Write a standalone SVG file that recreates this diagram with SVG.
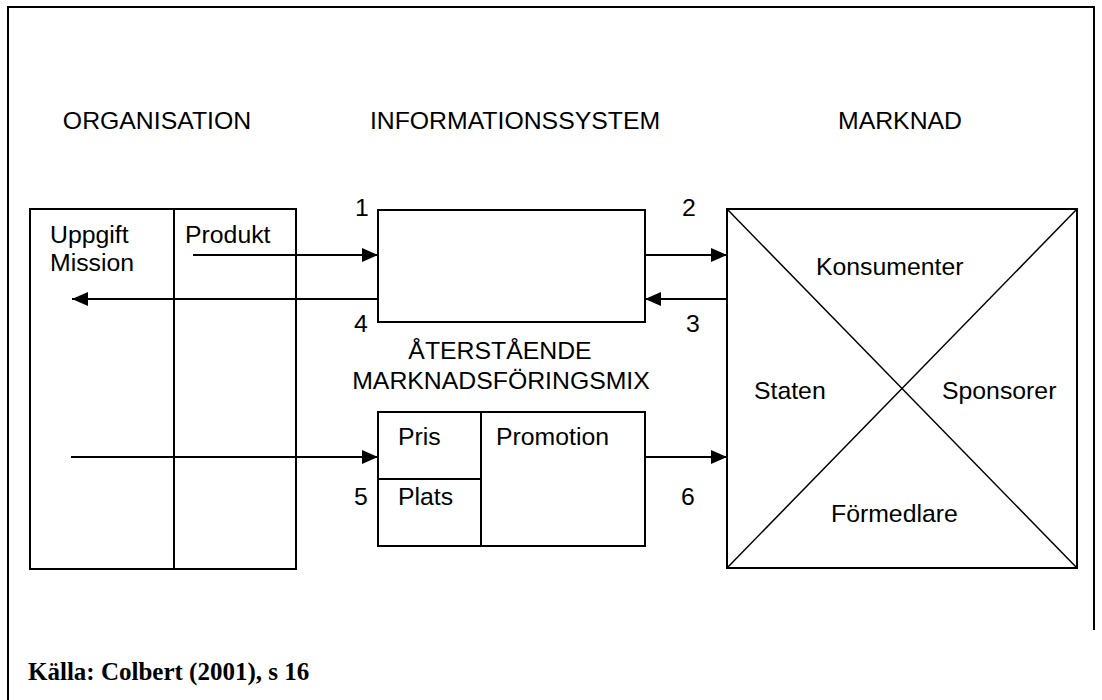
<svg xmlns="http://www.w3.org/2000/svg" width="1102" height="700" viewBox="0 0 1102 700">
  <style>
    .box { fill: none; stroke: #000; stroke-width: 2; }
    .thin { fill: none; stroke: #000; stroke-width: 1.5; }
    .lbl { font-family: "Liberation Sans", Arial, sans-serif; font-size: 24.8px; fill: #000; }
    .mid { text-anchor: middle; }
    .src { font-family: "Liberation Serif", "Times New Roman", serif; font-size: 25px; font-weight: bold; fill: #000; }
    .conn { stroke: #000; stroke-width: 2; fill: none; marker-end: url(#arrow); }
  </style>
  <defs>
    <marker id="arrow" viewBox="0 0 16 14" refX="16" refY="7" markerWidth="16" markerHeight="14" markerUnits="userSpaceOnUse" orient="auto">
      <path d="M0,0 L16,7 L0,14 Z" fill="#000"/>
    </marker>
  </defs>

  <rect width="1102" height="700" fill="#fff"/>

  <!-- outer frame -->
  <path d="M8,720 V7 H1094 V630" class="box" stroke="#222"/>

  <!-- column headings -->
  <text class="lbl mid" x="157" y="129">ORGANISATION</text>
  <text class="lbl mid" x="515" y="129">INFORMATIONSSYSTEM</text>
  <text class="lbl mid" x="900" y="129">MARKNAD</text>

  <!-- organisation block -->
  <g id="organisation">
    <rect class="box" x="30" y="209" width="266" height="360"/>
    <line class="box" x1="174" y1="209" x2="174" y2="569"/>
    <text class="lbl" x="50" y="243">Uppgift</text>
    <text class="lbl" x="50" y="271">Mission</text>
    <text class="lbl" x="185" y="243">Produkt</text>
  </g>

  <!-- information system -->
  <g id="informationssystem">
    <rect class="box" x="378" y="210" width="267" height="112"/>
  </g>

  <!-- remaining marketing mix -->
  <g id="marknadsforingsmix">
    <text class="lbl mid" x="500" y="359">ÅTERSTÅENDE</text>
    <text class="lbl mid" x="501" y="389">MARKNADSFÖRINGSMIX</text>
    <rect class="box" x="378" y="412" width="267" height="134"/>
    <line class="box" x1="481" y1="412" x2="481" y2="546"/>
    <line class="box" x1="378" y1="479" x2="481" y2="479"/>
    <text class="lbl" x="398" y="445">Pris</text>
    <text class="lbl" x="398" y="505">Plats</text>
    <text class="lbl" x="496" y="445">Promotion</text>
  </g>

  <!-- market -->
  <g id="marknad">
    <rect class="box" x="727" y="209" width="350" height="359"/>
    <line class="thin" x1="727" y1="209" x2="1077" y2="568"/>
    <line class="thin" x1="1077" y1="209" x2="727" y2="568"/>
    <text class="lbl" x="816" y="275">Konsumenter</text>
    <text class="lbl" x="754" y="399">Staten</text>
    <text class="lbl" x="942" y="399">Sponsorer</text>
    <text class="lbl" x="831" y="522">Förmedlare</text>
  </g>

  <!-- flows -->
  <g id="connectors">
    <line class="conn" x1="193" y1="255" x2="378" y2="255"/>
    <line class="conn" x1="378" y1="299" x2="72" y2="299"/>
    <line class="conn" x1="645" y1="255" x2="727" y2="255"/>
    <line class="conn" x1="727" y1="299" x2="645" y2="299"/>
    <line class="conn" x1="71" y1="457" x2="378" y2="457"/>
    <line class="conn" x1="645" y1="457" x2="727" y2="457"/>
    <text class="lbl" x="355" y="216">1</text>
    <text class="lbl" x="682" y="216">2</text>
    <text class="lbl" x="686" y="332">3</text>
    <text class="lbl" x="354" y="332">4</text>
    <text class="lbl" x="354" y="505">5</text>
    <text class="lbl" x="681" y="505">6</text>
  </g>

  <text class="src" x="28" y="680">Källa: Colbert (2001), s 16</text>
</svg>
